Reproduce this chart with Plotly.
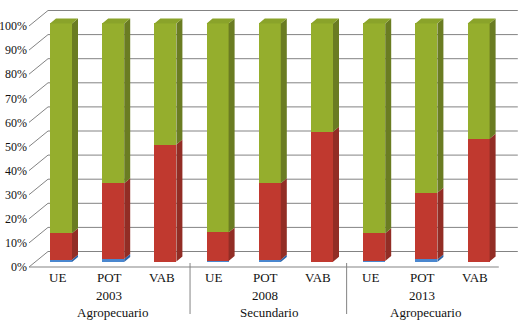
import plotly.graph_objects as go

# ---------------- data ----------------
categories = ["UE", "POT", "VAB", "UE", "POT", "VAB", "UE", "POT", "VAB"]
years = ["2003", "2008", "2013"]
sectors = ["Agropecuario", "Secundario", "Agropecuario"]
blue_vals = [0.9, 1.3, 0.2, 0.4, 0.9, 0.1, 0.4, 1.1, 0.2]
red_vals = [11.1, 31.7, 49.0, 12.0, 32.1, 54.5, 11.6, 27.9, 51.5]
green_vals = [88.0, 67.0, 50.8, 87.6, 67.0, 45.4, 88.0, 71.0, 48.3]
y_ticks = [0, 10, 20, 30, 40, 50, 60, 70, 80, 90, 100]
y_ticktext = [f"{v}%" for v in y_ticks]

# ---------------- geometry (pixel -> data units) ----------------
W, H = 525, 321
PX_X = 52.2          # px per category unit
PX_Y = 2.41          # px per percent
plot_l, plot_r, plot_t, plot_b = 29, 520, 5, 318
front0_px = 267      # pixel of 0% on the front plane

x_range = [-0.5, -0.5 + (plot_r - plot_l) / PX_X]
y_min = -(plot_b - front0_px) / PX_Y
y_range = [y_min, y_min + (plot_b - plot_t) / PX_Y]

def ux(px):
    return px / PX_X

def uy(px):
    return px / PX_Y

bar_dx, bar_dy = ux(5.9), uy(5.0)      # bar front face offset from front plane
bar_w = ux(22)
side_dx, side_dy = ux(6), uy(5)        # bar depth
wall_dx, wall_dy = ux(19), uy(15.5)    # front plane -> back wall
k = 0.99                               # perspective scale of bars

n = len(categories)
xs = [i + bar_dx for i in range(n)]

series = [
    ("blue", blue_vals, "#4A87CF", "#2D65A8"),
    ("red", red_vals, "#C0392F", "#922D25"),
    ("green", green_vals, "#95AE2D", "#6A7C22"),
]
top_color = "#8AA32A"

fig = go.Figure()

grid_col = "#838383"
shapes = []
left = -0.5
right = 8.5
for v in y_ticks:
    shapes.append(dict(type="line", xref="x", yref="y", x0=left, y0=v,
                       x1=left + wall_dx, y1=v + wall_dy,
                       line=dict(color=grid_col, width=1), layer="below"))
    shapes.append(dict(type="line", xref="x", yref="y", x0=left + wall_dx, y0=v + wall_dy,
                       x1=right + wall_dx, y1=v + wall_dy,
                       line=dict(color=grid_col, width=1), layer="below"))
shapes.append(dict(type="line", xref="x", yref="y", x0=left, y0=0, x1=right, y1=0,
                   line=dict(color=grid_col, width=1), layer="below"))
for g in (1, 2):
    xs_sep = 3 * g - 0.5 + 0.085
    shapes.append(dict(type="line", xref="x", yref="y", x0=xs_sep, y0=uy(4),
                       x1=xs_sep, y1=-uy(314 - front0_px),
                       line=dict(color=grid_col, width=1)))

cum = [bar_dy] * n
for name, vals, c_front, c_side in series:
    bases = list(cum)
    heights = [v * k for v in vals]
    fig.add_trace(go.Bar(x=xs, y=heights, base=bases, width=bar_w,
                         marker=dict(color=c_front, line=dict(width=0)),
                         name=name, showlegend=False, hoverinfo="skip"))
    sx, sy = [], []
    for i in range(n):
        b = bases[i]
        t = bases[i] + heights[i]
        xr = xs[i] + bar_w / 2
        sx += [xr, xr + side_dx, xr + side_dx, xr, xr, None]
        sy += [b, b + side_dy, t + side_dy, t, b, None]
        cum[i] = t
    fig.add_trace(go.Scatter(x=sx, y=sy, mode="lines", fill="toself",
                             fillcolor=c_side, line=dict(width=0, color=c_side),
                             showlegend=False, hoverinfo="skip"))

tx, ty = [], []
for i in range(n):
    t = cum[i]
    xl = xs[i] - bar_w / 2
    xr = xs[i] + bar_w / 2
    tx += [xl, xl + side_dx, xr + side_dx, xr, xl, None]
    ty += [t, t + side_dy, t + side_dy, t, t, None]
fig.add_trace(go.Scatter(x=tx, y=ty, mode="lines", fill="toself",
                         fillcolor=top_color, line=dict(width=0, color=top_color),
                         showlegend=False, hoverinfo="skip"))

serif = "'Liberation Serif', 'Times New Roman', serif"
font = dict(family=serif, size=13, color="#111111")
ann = []
for i, c in enumerate(categories):
    ann.append(dict(x=i + 0.04, y=-uy(277 - front0_px), xref="x", yref="y", text=c,
                    showarrow=False, font=font, xanchor="center", yanchor="middle"))
for g in range(3):
    ann.append(dict(x=3 * g + 1 + 0.03, y=-uy(295 - front0_px), xref="x", yref="y",
                    text=years[g], showarrow=False, font=font,
                    xanchor="center", yanchor="middle"))
    ann.append(dict(x=3 * g + 1 + 0.1, y=-uy(312 - front0_px), xref="x", yref="y",
                    text=sectors[g], showarrow=False, font=font,
                    xanchor="center", yanchor="middle"))

fig.update_layout(
    width=W, height=H,
    margin=dict(l=plot_l, r=W - plot_r, t=plot_t, b=H - plot_b, pad=0),
    paper_bgcolor="white", plot_bgcolor="rgba(0,0,0,0)",
    barmode="overlay", bargap=0,
    shapes=shapes, annotations=ann,
    font=dict(family=serif),
    xaxis=dict(range=x_range, visible=False, fixedrange=True),
    yaxis=dict(range=y_range, tickvals=y_ticks, ticktext=y_ticktext,
               showgrid=False, zeroline=False, showline=False, ticks="",
               ticklabelstandoff=1, automargin=False, fixedrange=True,
               tickfont=dict(family=serif, size=12, color="#111111")),
    showlegend=False,
)

fig.write_html("out.html", config={"displayModeBar": False, "staticPlot": True},
               post_script="document.body.style.margin='0';document.body.style.overflow='hidden';")
